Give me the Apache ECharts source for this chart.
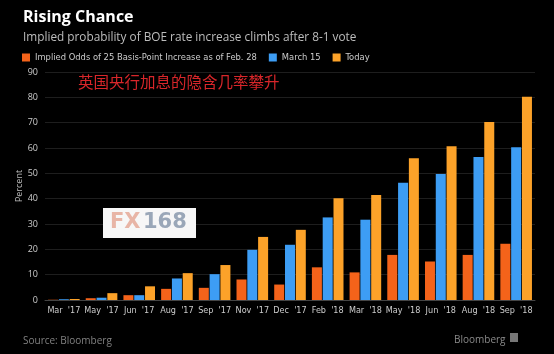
<!DOCTYPE html>
<html><head><meta charset="utf-8">
<style>html,body{margin:0;padding:0;background:#000;}#c{width:554px;height:354px;}</style>
<script src="https://cdn.jsdelivr.net/npm/echarts@6/dist/echarts.min.js"></script>
</head><body><div id="c"></div>
<script>
var categories = ["Mar '17","May '17","Jun '17","Aug '17","Sep '17","Nov '17","Dec '17","Feb '18","Mar '18","May '18","Jun '18","Aug '18","Sep '18"];
var feb28 = [0.1,0.7,1.9,4.4,4.8,8.1,6.1,12.9,10.9,17.8,15.2,17.8,22.2];
var march15 = [0.3,0.9,1.9,8.5,10.2,19.8,21.8,32.6,31.7,46.3,49.7,56.4,60.3];
var today = [0.4,2.7,5.4,10.6,13.8,24.9,27.7,40.2,41.4,56.0,60.7,70.3,80.2];
var seriesNames = ["Implied Odds of 25 Basis-Point Increase as of Feb. 28","March 15","Today"];
var colors = ["#f4631a","#3d9df4","#fca229"];

var chart = echarts.init(document.getElementById('c'));
var font = "'Open Sans', 'DejaVu Sans', sans-serif";
var narrow = "'DejaVu Sans Condensed','Liberation Sans Narrow',sans-serif";
chart.setOption({
  backgroundColor: '#000',
  animation: false,
  title: [
    {text: 'Rising Chance', left: 18, top: 4, textStyle: {color: '#fff', fontSize: 16, fontWeight: 'bold', fontFamily: font}},
    {text: 'Implied probability of BOE rate increase climbs after 8-1 vote', left: 18, top: 27, textStyle: {color: '#bdbdbd', fontSize: 11.8, fontWeight: 'normal', fontFamily: font}},
    {text: 'Source: Bloomberg', left: 18, top: 331, textStyle: {color: '#808080', fontSize: 10, fontWeight: 'normal', fontFamily: font}},
    {text: 'Bloomberg', left: 449, top: 330, textStyle: {color: '#8a8a8a', fontSize: 10, fontWeight: 'normal', fontFamily: font}}
  ],
  legend: {
    data: seriesNames, left: 17, top: 48, itemWidth: 8, itemHeight: 8, itemGap: 12,
    icon: 'rect', textStyle: {color: '#ccc', fontSize: 9.3, fontFamily: narrow}
  },
  grid: {left: 45, right: 19, top: 72, bottom: 54, containLabel: false},
  xAxis: {
    type: 'category', data: categories,
    axisLine: {lineStyle: {color: '#444'}}, axisTick: {show: false},
    axisLabel: {color: '#ccc', fontSize: 9, interval: 0, margin: 6, fontFamily: narrow,
      formatter: function (v) { return v.replace(' ', '  '); }}
  },
  yAxis: {
    type: 'value', min: 0, max: 90, interval: 10,
    name: 'Percent', nameLocation: 'middle', nameGap: 21, nameRotate: 90, nameMoveOverlap: false,
    nameTextStyle: {color: '#bbb', fontSize: 9, fontFamily: font},
    axisLine: {show: false}, axisTick: {show: false},
    axisLabel: {color: '#ccc', fontSize: 9, margin: 7, fontFamily: font},
    splitLine: {lineStyle: {color: '#1e1e1e'}}
  },
  series: [
    {name: seriesNames[0], type: 'bar', data: feb28, itemStyle: {color: colors[0]}, barWidth: 10, barGap: '8%'},
    {name: seriesNames[1], type: 'bar', data: march15, itemStyle: {color: colors[1]}, barWidth: 10, barGap: '8%'},
    {name: seriesNames[2], type: 'bar', data: today, itemStyle: {color: colors[2]}, barWidth: 10, barGap: '8%'}
  ],
  graphic: [
    {type: 'text', z: 100, left: 78, top: 74, style: {text: '英国央行加息的隐含几率攀升', fill: '#d8262a', fontSize: 15.5, fontFamily: "'Noto Sans CJK SC', sans-serif"}},
    {type: 'rect', z: 100, shape: {x: 103, y: 208, width: 93, height: 30}, style: {fill: '#f7f7f7'}},
    {type: 'text', z: 101, left: 110, top: 212, style: {text: 'FX', fill: '#e8b5a6', fontSize: 21, fontWeight: 'bold', fontFamily: "'DejaVu Sans', sans-serif"}},
    {type: 'text', z: 101, left: 143, top: 212, style: {text: '168', fill: '#9aa7b8', fontSize: 21, fontWeight: 'bold', fontFamily: "'DejaVu Sans', sans-serif"}},
    {type: 'rect', z: 100, shape: {x: 510, y: 333, width: 8, height: 9}, style: {fill: '#777'}}
  ]
});
</script></body></html>
